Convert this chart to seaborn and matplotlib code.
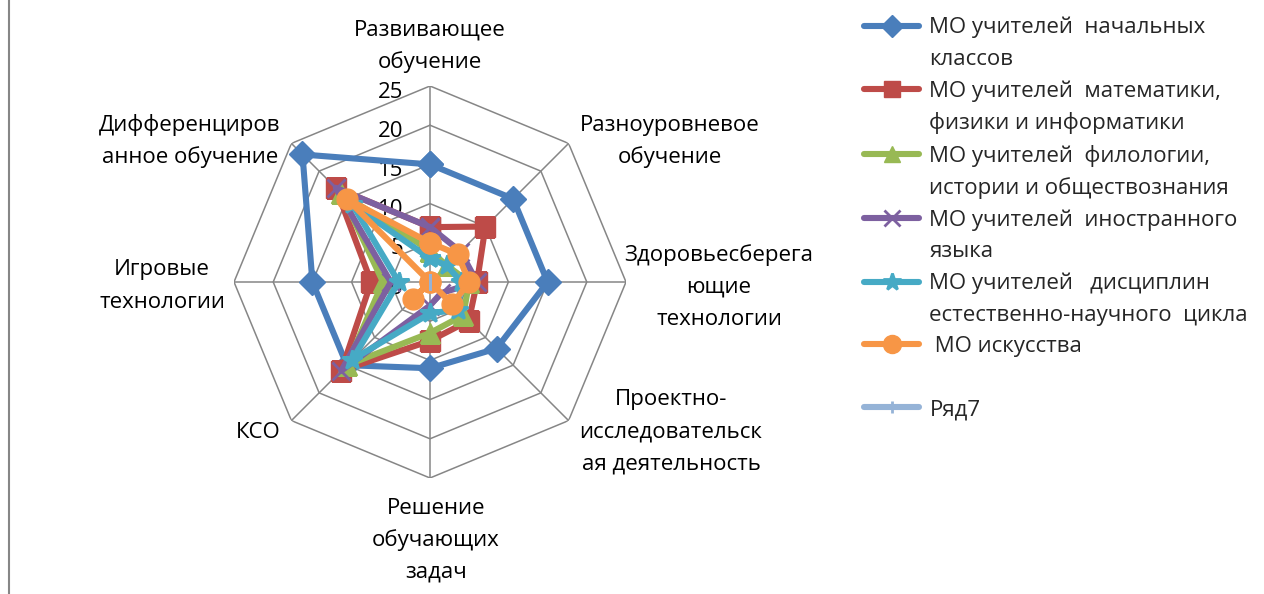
import numpy as np
import matplotlib
matplotlib.use("Agg")
import matplotlib.pyplot as plt
import seaborn as sns
from matplotlib.lines import Line2D

sns.set_style("white")
plt.rcParams["font.family"] = ["Open Sans", "DejaVu Sans"]

# axes of the radar, clockwise from the top
categories = [
    "Развивающее\nобучение",
    "Разноуровневое\nобучение",
    "Здоровьесберега\nющие\nтехнологии",
    "Проектно-\nисследовательск\nая деятельность",
    "Решение\nобучающих\nзадач",
    "КСО",
    "Игровые\nтехнологии",
    "Дифференциров\nанное обучение",
]

series_names = [
    "МО учителей  начальных\nклассов",
    "МО учителей  математики,\nфизики и информатики",
    "МО учителей  филологии,\nистории и обществознания",
    "МО учителей  иностранного\nязыка",
    "МО учителей   дисциплин\nестественно-научного  цикла",
    " МО искусства\n ",
    "Ряд7",
]

primary = [15, 15, 15, 12, 11, 15, 15, 23]
math_phys = [7, 10, 6, 7, 7.5, 16, 7.5, 17]
philology = [4, 3, 5, 6, 6.5, 15, 6, 16]
foreign = [7, 5.5, 6, 2, 3, 16, 5, 17]
science = [3, 3, 4, 5, 4, 14, 4, 14]
arts = [5, 5, 5, 4, 0, 3, 0, 15]
row7 = [0, 0, 0, 0, 0, 0, 0, 0]

r_ticks = [0, 5, 10, 15, 20, 25]

values = [primary, math_phys, philology, foreign, science, arts, row7]
colors = ["#4A7EBB", "#BE4B48", "#98B954", "#7D60A0", "#46AAC5", "#F79646", "#95B3D7"]
markers = ["D", "s", "^", "x", "*", "o", "|"]
msizes = [13, 14, 14, 13, 15, 15, 11]

FS = 16
W, H = 1264, 594
fig = plt.figure(figsize=(W / 100, H / 100), dpi=100)
cx, cy, rad = 430, 282, 196
ax = fig.add_axes([(cx - rad) / W, (H - cy - rad) / H, 2 * rad / W, 2 * rad / H],
                  projection="polar")
ax.set_theta_zero_location("N")
ax.set_theta_direction(-1)
ax.set_ylim(0, 25)
ax.grid(False)
ax.spines["polar"].set_visible(False)
ax.set_xticks([])
ax.set_yticks([])
ax.patch.set_alpha(0)

n = len(categories)
theta = np.linspace(0, 2 * np.pi, n, endpoint=False)
theta_c = np.append(theta, theta[0])

# octagon grid and spokes
for r in r_ticks[1:]:
    ax.plot(theta_c, [r] * (n + 1), color="#868686", lw=1.1, zorder=1)
for t in theta:
    ax.plot([t, t], [0, 25], color="#868686", lw=1.1, zorder=1)

for r in r_ticks:
    ax.annotate(str(r), xy=(0, r), xytext=(-27, -6), textcoords="offset pixels",
                ha="right", va="center", fontsize=FS, color="black")

handles = []
labels = []
for vals, col, mk, ms, name in zip(values, colors, markers, msizes, series_names):
    v = np.append(vals, vals[0])
    mew = 2.0 if mk in ("x", "*", "|") else 1
    ax.plot(theta_c, v, color=col, lw=4.4, marker=mk, markersize=ms,
            markeredgewidth=mew, markeredgecolor=col, zorder=3)
    parts = name.split("\n")
    handles.append(Line2D([], [], color=col, lw=4.4, marker=mk, markersize=ms - 2,
                          markeredgewidth=mew, markeredgecolor=col))
    labels.append(parts[0])
    for extra in parts[1:]:
        handles.append(Line2D([], [], color="none"))
        labels.append(extra)

fig.legend(handles, labels, loc="upper left", bbox_to_anchor=(855 / W, 1 - 8 / H),
           frameon=False, fontsize=FS, handlelength=2.5, handletextpad=0.45,
           labelspacing=0.47, borderaxespad=0)

# category labels: centre x and first-line y in pixels
label_pos = [(430, 30), (670, 125), (719, 255), (671, 400),
             (436, 508), (258, 432), (162, 270), (190, 125)]
for text, (x, y) in zip(categories, label_pos):
    for i, line in enumerate(text.split("\n")):
        fig.text(x / W, 1 - (y + 32 * i) / H, line, ha="center", va="center",
                 fontsize=FS, color="black")

fig.add_artist(Line2D([9 / W, 9 / W], [0, 1], color="#868686", lw=1.5))

fig.savefig("out.png", dpi=100, facecolor="white")
